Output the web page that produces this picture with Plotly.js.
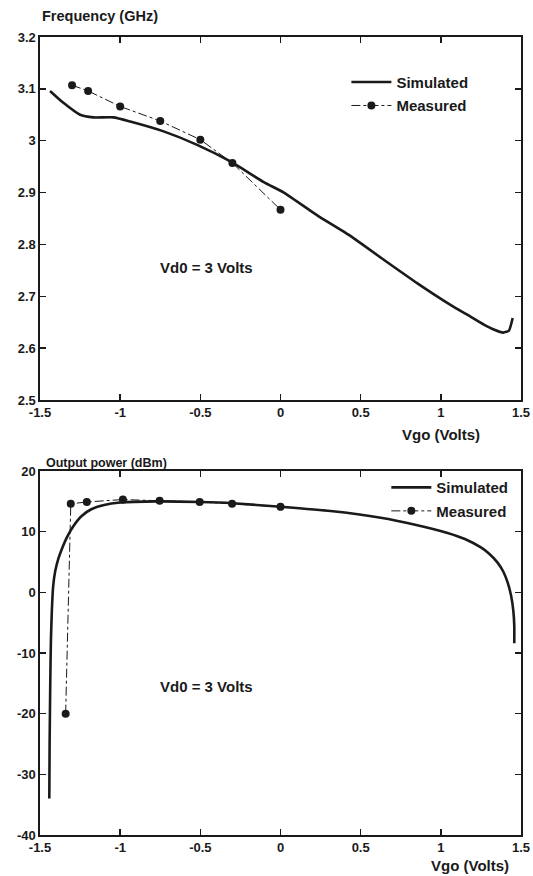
<!DOCTYPE html>
<html>
<head>
<meta charset="utf-8">
<script src="https://cdn.plot.ly/plotly-3.0.1.min.js"></script>
<style>html,body{margin:0;padding:0;background:#fff;}#chart{width:533px;height:876px;}</style>
</head>
<body>
<div id="chart"></div>
<script>
// ---- Top panel: Frequency (GHz) vs Vgo (Volts)
const freqSimV = [-1.4375, -1.354, -1.25, -1.167, -1.042, -0.9375, -0.729, -0.52, -0.3125, -0.104, 0.021, 0.229, 0.4375, 0.646, 0.854, 1.0625, 1.167, 1.271, 1.33, 1.39, 1.425, 1.448];
const freqSimF = [3.096, 3.073, 3.050, 3.045, 3.045, 3.037, 3.018, 2.992, 2.960, 2.920, 2.900, 2.856, 2.816, 2.770, 2.725, 2.683, 2.664, 2.645, 2.636, 2.630, 2.634, 2.658];
const freqMeasV = [-1.3, -1.2, -1.0, -0.75, -0.5, -0.3, 0.0];
const freqMeasF = [3.107, 3.096, 3.066, 3.038, 3.002, 2.957, 2.867];

// ---- Bottom panel: Output power (dBm) vs Vgo (Volts)
const powSimV = [-1.442, -1.44, -1.436, -1.432, -1.426, -1.418, -1.405, -1.385, -1.36, -1.33, -1.29, -1.24, -1.18, -1.1, -1.0, -0.77, -0.5, -0.3, 0.0, 0.3125, 0.625, 0.833, 1.042, 1.15, 1.25, 1.3, 1.354, 1.39, 1.417, 1.438, 1.452, 1.458, 1.458];
const powSimP = [-34, -25, -15, -8, -3, 1, 3.5, 5.6, 7.4, 9.2, 11.0, 12.6, 13.7, 14.4, 14.8, 15.0, 14.9, 14.7, 14.1, 13.4, 12.3, 11.2, 9.8, 8.8, 7.4, 6.4, 4.9, 3.4, 1.6, -0.5, -3.0, -5.5, -8.4];
const powMeasV = [-1.34, -1.308, -1.208, -0.983, -0.754, -0.504, -0.302, 0.0];
const powMeasP = [-20, 14.6, 14.9, 15.3, 15.1, 14.9, 14.6, 14.1];

// ---- Tick labels
const xTickVals = [-1.5, -1, -0.5, 0, 0.5, 1, 1.5];
const xTickText = ["-1.5", "-1", "-0.5", "0", "0.5", "1", "1.5"];
const fTickVals = [2.5, 2.6, 2.7, 2.8, 2.9, 3.0, 3.1, 3.2];
const fTickText = ["2.5", "2.6", "2.7", "2.8", "2.9", "3", "3.1", "3.2"];
const pTickVals = [-40, -30, -20, -10, 0, 10, 20];
const pTickText = ["-40", "-30", "-20", "-10", "0", "10", "20"];

const FONT = "Liberation Sans, Arial, Helvetica, sans-serif";
const INK = "#1a1a1a";

const simLine = {color: INK, width: 2.6, shape: "spline", smoothing: 0.5};
const measLine = {color: INK, width: 1, dash: "dashdot"};
const measMarker = {color: INK, size: 8, symbol: "circle"};

const traces = [
  {x: freqSimV, y: freqSimF, xaxis: "x", yaxis: "y", mode: "lines", name: "Simulated", line: simLine, legend: "legend", legendgroup: "a"},
  {x: freqMeasV, y: freqMeasF, xaxis: "x", yaxis: "y", mode: "lines+markers", name: "Measured", line: measLine, marker: measMarker, legend: "legend", legendgroup: "b"},
  {x: powSimV, y: powSimP, xaxis: "x2", yaxis: "y2", mode: "lines", name: "Simulated", line: simLine, legend: "legend2", legendgroup: "c"},
  {x: powMeasV, y: powMeasP, xaxis: "x2", yaxis: "y2", mode: "lines+markers", name: "Measured", line: measLine, marker: measMarker, legend: "legend2", legendgroup: "d"}
];

const axisCommon = {
  showline: true, linecolor: INK, linewidth: 1.6, mirror: "ticks",
  ticks: "inside", ticklen: 6, tickwidth: 1.4, tickcolor: INK,
  showgrid: false, zeroline: false,
  tickfont: {family: FONT, size: 13, color: INK, weight: "bold"}
};

const legendCommon = {
  font: {family: FONT, size: 15, color: INK, weight: "bold"},
  bgcolor: "rgba(0,0,0,0)", borderwidth: 0, itemwidth: 40,
  xanchor: "left", yanchor: "top", tracegroupgap: 1, traceorder: "grouped"
};

const txt = (s) => ({family: FONT, size: s, color: INK, weight: "bold"});

const layout = {
  width: 533, height: 876,
  margin: {l: 40, r: 12, t: 37, b: 41},
  paper_bgcolor: "#ffffff", plot_bgcolor: "#ffffff",
  showlegend: true,
  xaxis: Object.assign({}, axisCommon, {domain: [0, 1], anchor: "y", range: [-1.5, 1.5], tickvals: xTickVals, ticktext: xTickText}),
  yaxis: Object.assign({}, axisCommon, {domain: [0.5451, 1], anchor: "x", range: [2.5, 3.2], tickvals: fTickVals, ticktext: fTickText}),
  xaxis2: Object.assign({}, axisCommon, {domain: [0, 1], anchor: "y2", range: [-1.5, 1.5], tickvals: xTickVals, ticktext: xTickText}),
  yaxis2: Object.assign({}, axisCommon, {domain: [0, 0.4561], anchor: "x2", range: [-40, 20], tickvals: pTickVals, ticktext: pTickText}),
  legend: Object.assign({}, legendCommon, {x: 0.637, y: 0.964}),
  legend2: Object.assign({}, legendCommon, {x: 0.72, y: 0.456}),
  annotations: [
    {text: "Frequency (GHz)", xref: "paper", yref: "paper", x: 0.0, y: 1.0263, xanchor: "left", yanchor: "middle", showarrow: false, font: txt(14.5)},
    {text: "Vgo (Volts)", xref: "paper", yref: "paper", x: 0.834, y: 0.5025, xanchor: "center", yanchor: "middle", showarrow: false, font: txt(15)},
    {text: "Vd0 = 3 Volts", xref: "x", yref: "y", x: -0.46, y: 2.756, xanchor: "center", yanchor: "middle", showarrow: false, font: txt(15)},
    {text: "Output power (dBm)", xref: "paper", yref: "paper", x: 0.008, y: 0.466, xanchor: "left", yanchor: "middle", showarrow: false, font: txt(12.5)},
    {text: "Vgo (Volts)", xref: "paper", yref: "paper", x: 0.894, y: -0.0385, xanchor: "center", yanchor: "middle", showarrow: false, font: txt(15)},
    {text: "Vd0 = 3 Volts", xref: "x2", yref: "y2", x: -0.46, y: -15.5, xanchor: "center", yanchor: "middle", showarrow: false, font: txt(15)}
  ]
};

Plotly.newPlot("chart", traces, layout, {displayModeBar: false, staticPlot: true});
</script>
</body>
</html>
